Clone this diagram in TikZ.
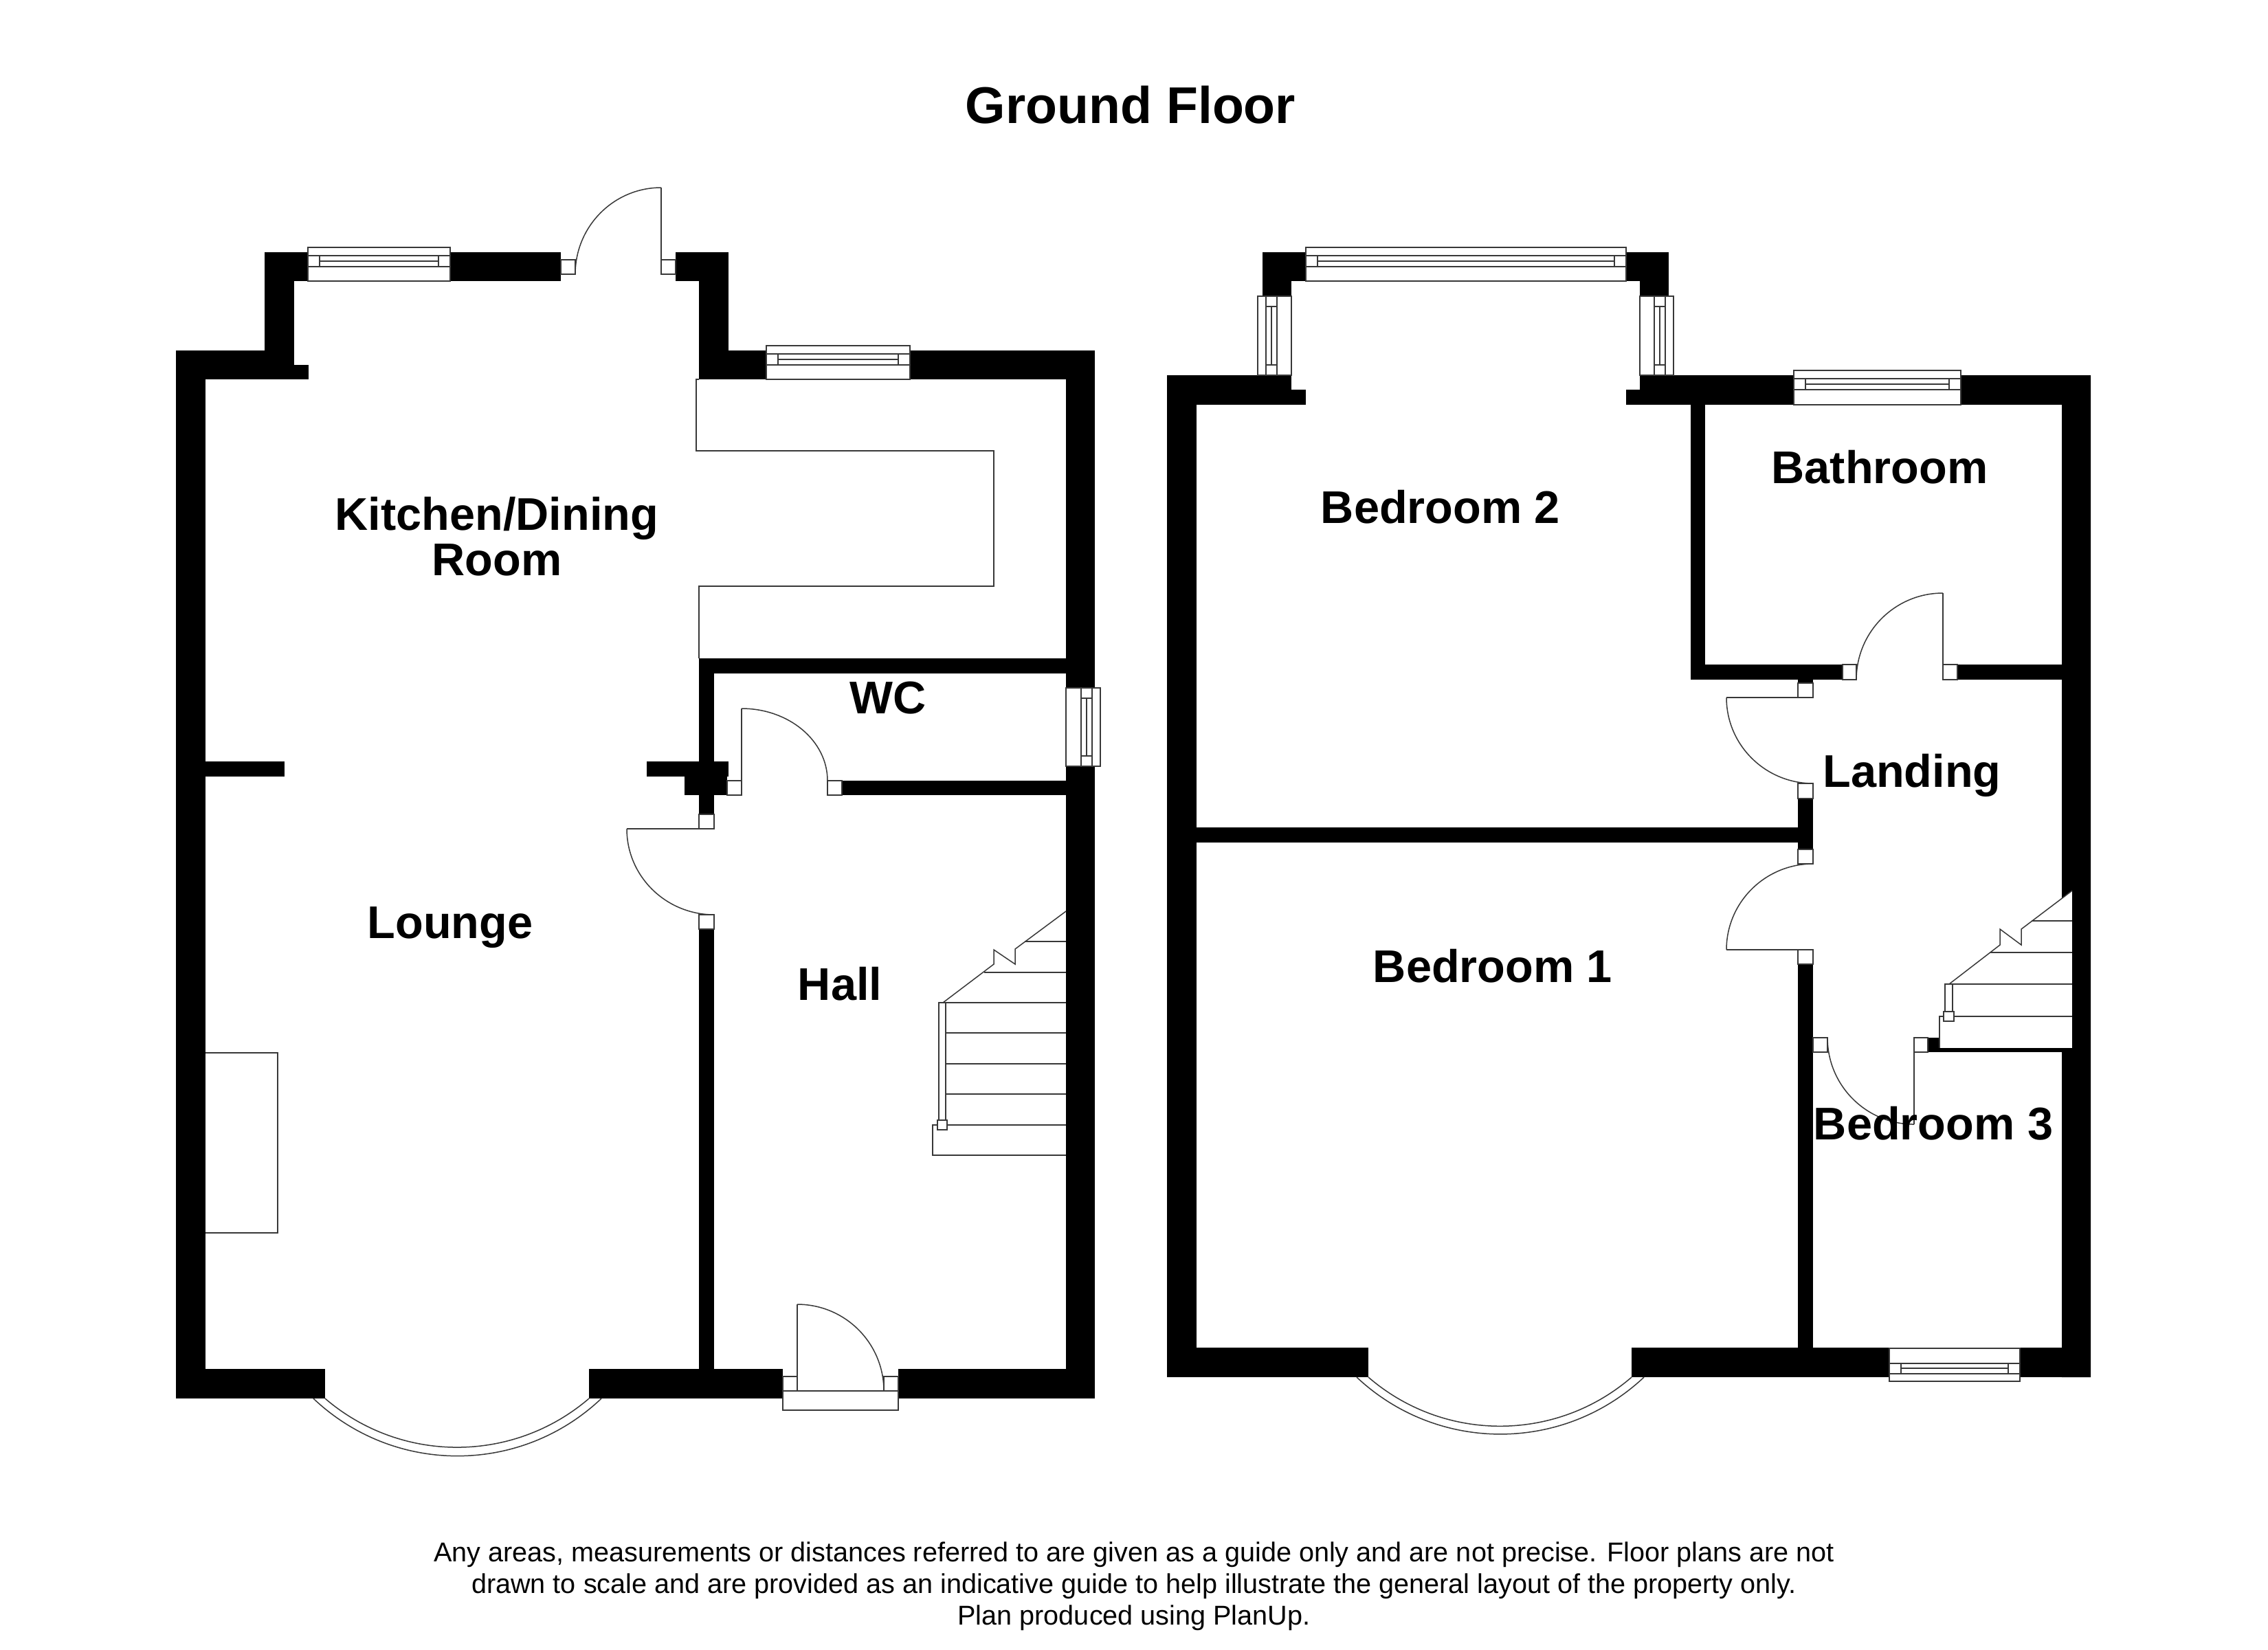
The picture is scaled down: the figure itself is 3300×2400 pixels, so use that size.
\documentclass[tikz,border=0pt]{standalone}
\usepackage{fontspec}
\setmainfont{Liberation Sans}
\usetikzlibrary{calc}
\tikzset{
  wallfill/.style={fill=black},
  thinline/.style={draw=black!78,line width=0.45pt,line join=miter},
  jamb/.style={thinline,fill=white},
  glazing/.style={thinline,fill=white},
  roomlabel/.style={font=\fontsize{20}{19.8}\selectfont\bfseries,anchor=base,inner sep=0pt,align=center},
  titlelabel/.style={font=\fontsize{22.55}{24}\selectfont\bfseries,anchor=base,inner sep=0pt},
  notelabel/.style={font=\fontsize{11.88}{13.8}\selectfont,anchor=base,inner sep=0pt,align=center}
}
% quarter-circle door swing: start, corner, end
\newcommand\swing[3]{\draw[thinline] (#1) .. controls ($(#1)!0.5523!(#2)$) and ($(#3)!0.5523!(#2)$) .. (#3);}
% horizontal window: x1,x2,ytop,y1,y2,ymid,ybottom
\newcommand\hwin[7]{%
  \draw[glazing] (#1,#3) rectangle (#2,#7);
  \draw[thinline] (#1,#4) -- (#2,#4) (#1,#5) -- (#2,#5);
  \draw[thinline] (#1+17,#4) -- (#1+17,#5) (#2-17,#4) -- (#2-17,#5) (#1+17,#6) -- (#2-17,#6);}
% vertical window: ytop,ybottom,xa,x1,x2,xmid,xb
\newcommand\vwin[7]{%
  \draw[glazing] (#3,#1) rectangle (#7,#2);
  \draw[thinline] (#4,#1) -- (#4,#2) (#5,#1) -- (#5,#2);
  \draw[thinline] (#4,#1+15) -- (#5,#1+15) (#4,#2-15) -- (#5,#2-15) (#6,#1+15) -- (#6,#2-15);}
\begin{document}
\begin{tikzpicture}[x=0.3pt,y=-0.3pt]
\useasboundingbox (0,0) rectangle (3300,2400);
\fill[white] (0,0) rectangle (3300,2400);

%% ---------- left block: walls
\fill[wallfill] (256,510) rectangle (299,2035);
\fill[wallfill] (256,510) rectangle (428,552);
\fill[wallfill] (428,531) rectangle (449,552);
\fill[wallfill] (385,367) rectangle (428,531);
\fill[wallfill] (385,367) rectangle (449,409);
\fill[wallfill] (655,367) rectangle (816,409);
\fill[wallfill] (983,367) rectangle (1060,409);
\fill[wallfill] (1017,367) rectangle (1060,552);
\fill[wallfill] (1060,510) rectangle (1115,552);
\fill[wallfill] (1324,510) rectangle (1593,552);
\fill[wallfill] (1551,510) rectangle (1593,1001);
\fill[wallfill] (1551,1115) rectangle (1593,2035);
\fill[wallfill] (1017,958) rectangle (1551,980);
\fill[wallfill] (1017,958) rectangle (1039,1185);
\fill[wallfill] (941,1108) rectangle (1060,1130);
\fill[wallfill] (996,1130) rectangle (1058,1157);
\fill[wallfill] (1225,1136) rectangle (1551,1157);
\fill[wallfill] (1017,1352) rectangle (1039,1992);
\fill[wallfill] (299,1108) rectangle (414,1130);
\fill[wallfill] (256,1992) rectangle (473,2035);
\fill[wallfill] (857,1992) rectangle (1139,2035);
\fill[wallfill] (1307,1992) rectangle (1593,2035);

%% windows
\hwin{448}{655}{360}{372}{388}{380}{409}
\hwin{1115}{1324}{503}{515}{531}{523}{552}
\vwin{1001}{1115}{1551}{1573}{1589}{1581}{1601}

%% worktop and chimney breast
\draw[thinline] (1017,552) -- (1013,552) -- (1013,656) -- (1446,656) -- (1446,853) -- (1017,853) -- (1017,958);
\draw[thinline] (299,1532) -- (404,1532) -- (404,1794) -- (299,1794);

%% doors
\draw[jamb] (816,378) rectangle (837,399);
\draw[jamb] (962,378) rectangle (983,399);
\draw[thinline] (962,399) -- (962,273);
\swing{962,273}{837,273}{837,399}

\draw[jamb] (1017,1185) rectangle (1039,1206);
\draw[jamb] (1017,1331) rectangle (1039,1352);
\draw[thinline] (1017,1206) -- (912,1206);
\swing{912,1206}{912,1331}{1039,1331}

\draw[jamb] (1058,1136) rectangle (1079,1157);
\draw[jamb] (1204,1136) rectangle (1225,1157);
\draw[thinline] (1079,1136) -- (1079,1031);
\swing{1079,1031}{1204,1031}{1204,1136}

\draw[jamb] (1139,2003) rectangle (1160,2024);
\draw[jamb] (1286,2003) rectangle (1307,2024);
\draw[jamb] (1139,2024) rectangle (1307,2052);
\draw[thinline] (1160,2024) -- (1160,1898);
\swing{1160,1898}{1286,1898}{1286,2024}

%% lounge bay
\draw[thinline] (456,2035) .. controls (573.5,2146.5) and (757.5,2146.5) .. (875,2035);
\draw[thinline] (473,2035) .. controls (583.5,2129.7) and (746.5,2129.7) .. (857,2035);

%% hall stairs
\draw[thinline] (1551,1326) -- (1477,1381) -- (1477,1403) -- (1446,1382) -- (1446,1403) -- (1372,1459);
\draw[thinline] (1491,1370) -- (1551,1370);
\draw[thinline] (1432,1415) -- (1551,1415);
\draw[thinline] (1366,1459) -- (1551,1459);
\draw[thinline] (1376,1503) -- (1551,1503);
\draw[thinline] (1376,1548) -- (1551,1548);
\draw[thinline] (1376,1592) -- (1551,1592);
\draw[thinline] (1551,1637) -- (1357,1637) -- (1357,1681) -- (1551,1681);
\draw[jamb] (1366,1459) rectangle (1376,1630);
\draw[jamb] (1364,1630) rectangle (1378,1644);

%% ---------- right block: walls
\fill[wallfill] (1698,546) rectangle (1741,2004);
\fill[wallfill] (1698,546) rectangle (1879,589);
\fill[wallfill] (1879,567) rectangle (1900,589);
\fill[wallfill] (1837,367) rectangle (1900,409);
\fill[wallfill] (1837,367) rectangle (1879,431);
\fill[wallfill] (2366,367) rectangle (2428,409);
\fill[wallfill] (2386,367) rectangle (2428,431);
\fill[wallfill] (2366,567) rectangle (2386,589);
\fill[wallfill] (2386,546) rectangle (2610,589);
\fill[wallfill] (2853,546) rectangle (3042,589);
\fill[wallfill] (3000,546) -- (3042,546) -- (3042,2004) -- (3000,2004) -- (3000,1525) -- (3015,1525) -- (3015,1296) -- (3000,1307) -- cycle;
\fill[wallfill] (2460,589) rectangle (2481,989);
\fill[wallfill] (2460,967) rectangle (2681,989);
\fill[wallfill] (2848,967) rectangle (3000,989);
\fill[wallfill] (2616,989) rectangle (2638,994);
\fill[wallfill] (2616,1162) rectangle (2638,1236);
\fill[wallfill] (1741,1204) rectangle (2616,1226);
\fill[wallfill] (2616,1403) rectangle (2638,1961);
\fill[wallfill] (2805,1510) rectangle (2822,1531);
\fill[wallfill] (2805,1525) rectangle (3015,1531);
\fill[wallfill] (1698,1961) rectangle (1991,2004);
\fill[wallfill] (2374,1961) rectangle (2749,2004);
\fill[wallfill] (2939,1961) rectangle (3042,2004);

%% windows
\hwin{1900}{2366}{360}{372}{388}{380}{409}
\hwin{2610}{2853}{539}{551}{567}{559}{589}
\hwin{2749}{2939}{1962}{1984}{1999}{1991}{2010}
\vwin{431}{546}{1830}{1842}{1858}{1850}{1879}
\vwin{431}{546}{2386}{2407}{2423}{2415}{2435}

%% doors
\draw[jamb] (2681,967) rectangle (2701,989);
\draw[jamb] (2827,967) rectangle (2848,989);
\draw[thinline] (2827,967) -- (2827,863);
\swing{2827,863}{2701,863}{2701,989}

\draw[jamb] (2616,994) rectangle (2638,1015);
\draw[jamb] (2616,1140) rectangle (2638,1162);
\draw[thinline] (2616,1015) -- (2512,1015);
\swing{2512,1015}{2512,1140}{2638,1140}

\draw[jamb] (2616,1236) rectangle (2638,1257);
\draw[jamb] (2616,1382) rectangle (2638,1403);
\draw[thinline] (2616,1382) -- (2512,1382);
\swing{2638,1257}{2512,1257}{2512,1382}

\draw[jamb] (2638,1510) rectangle (2659,1531);
\draw[jamb] (2785,1510) rectangle (2805,1531);
\draw[thinline] (2785,1531) -- (2785,1636);
\swing{2659,1510}{2659,1636}{2785,1636}

%% bedroom 1 bay
\draw[thinline] (1974,2004) .. controls (2091.5,2114.5) and (2274.5,2114.5) .. (2392,2004);
\draw[thinline] (1991,2004) .. controls (2101,2099) and (2264,2099) .. (2374,2004);

%% landing stairs
\draw[thinline] (3015,1296) -- (2941,1352) -- (2941,1375) -- (2910,1352) -- (2910,1375) -- (2836,1432);
\draw[thinline] (2956,1340) -- (3015,1340);
\draw[thinline] (2896,1386) -- (3015,1386);
\draw[thinline] (2830,1432) -- (3015,1432);
\draw[thinline] (3015,1479) -- (2822,1479) -- (2822,1525);
\draw[jamb] (2830,1432) rectangle (2841,1472);
\draw[jamb] (2828,1472) rectangle (2843,1486);

%% ---------- text
\node[titlelabel] (title) at (1645,179) {Ground Floor};
\node[roomlabel] (kitchen) at (723,837) {Kitchen/Dining\\Room};
\node[roomlabel] (wc) at (1292,1038) {WC};
\node[roomlabel] (lounge) at (655,1365) {Lounge};
\node[roomlabel] (hall) at (1222,1455) {Hall};
\node[roomlabel] (bed2) at (2096,761) {Bedroom 2};
\node[roomlabel] (bath) at (2735,703) {Bathroom};
\node[roomlabel] (landing) at (2782,1145) {Landing};
\node[roomlabel] (bed1) at (2172,1429) {Bedroom 1};
\node[roomlabel] (bed3) at (2813,1658) {Bedroom 3};
\node[notelabel] (note) at (1650,2364) {Any areas, measurements or distances referred to are given as a guide only and are not precise. Floor plans are not\\drawn to scale and are provided as an indicative guide to help illustrate the general layout of the property only.\\Plan produced using PlanUp.};
\end{tikzpicture}
\end{document}
